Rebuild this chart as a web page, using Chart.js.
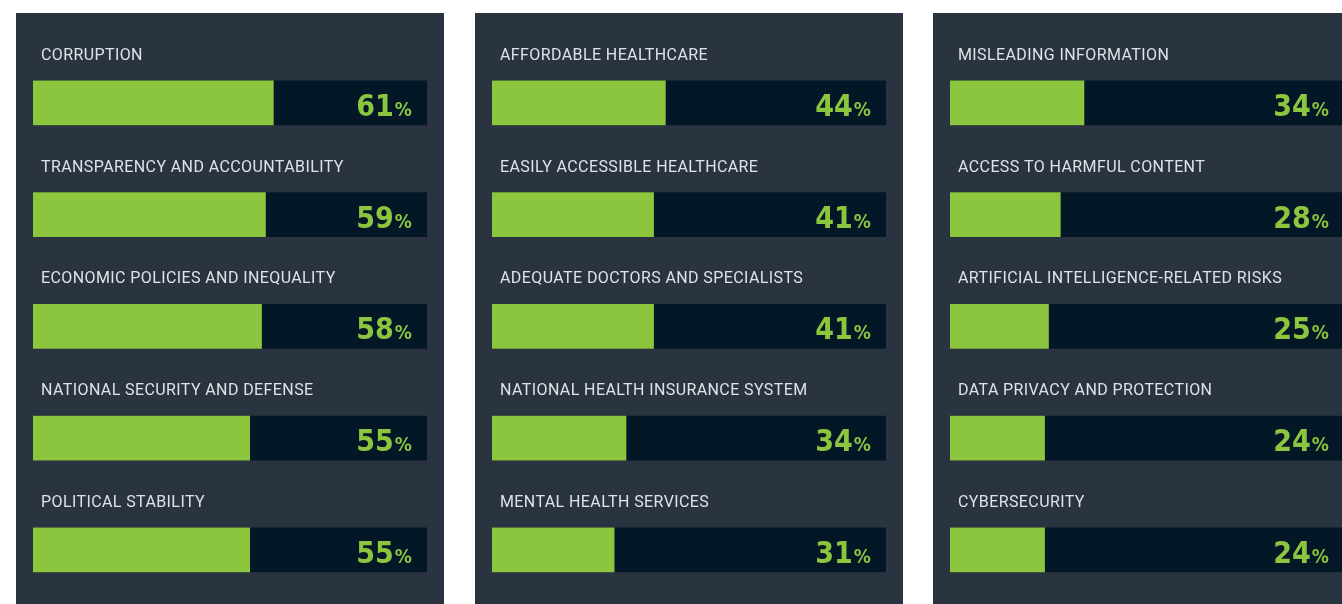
<!DOCTYPE html>
<html>
<head>
<meta charset="utf-8">
<script src="https://cdn.jsdelivr.net/npm/chart.js@4"></script>
<style>
    body { margin: 0; background: #ffffff; overflow: hidden; width: 1342px; height: 604px; position: relative; }
    canvas { position: absolute; top: 13px; }
</style>
</head>
<body>
<canvas id="panel1" width="428" height="620" style="left:16px"></canvas>
<canvas id="panel2" width="428" height="620" style="left:475px"></canvas>
<canvas id="panel3" width="428" height="620" style="left:933px"></canvas>
<script>
// Panel 1 - governance
const governanceLabels = ['CORRUPTION', 'TRANSPARENCY AND ACCOUNTABILITY', 'ECONOMIC POLICIES AND INEQUALITY', 'NATIONAL SECURITY AND DEFENSE', 'POLITICAL STABILITY'];
const governanceValues = [61, 59, 58, 55, 55];

// Panel 2 - healthcare
const healthLabels = ['AFFORDABLE HEALTHCARE', 'EASILY ACCESSIBLE HEALTHCARE', 'ADEQUATE DOCTORS AND SPECIALISTS', 'NATIONAL HEALTH INSURANCE SYSTEM', 'MENTAL HEALTH SERVICES'];
const healthValues = [44, 41, 41, 34, 31];

// Panel 3 - digital
const digitalLabels = ['MISLEADING INFORMATION', 'ACCESS TO HARMFUL CONTENT', 'ARTIFICIAL INTELLIGENCE-RELATED RISKS', 'DATA PRIVACY AND PROTECTION', 'CYBERSECURITY'];
const digitalValues = [34, 28, 25, 24, 24];

const scaleMax = 100;

const PANEL_BG = '#2a3441';
const TRACK = '#031727';
const GREEN = '#8cc63f';
const LABEL_COLOR = '#dfe3e7';
const VALUE_FONT = '"DejaVu Sans Condensed", "Liberation Sans Narrow", sans-serif';

// background, row labels and percentage text
const panelPlugin = {
    id: 'panelPlugin',
    beforeDraw(chart) {
        const ctx = chart.ctx;
        ctx.save();
        ctx.fillStyle = PANEL_BG;
        ctx.fillRect(0, 0, chart.width, chart.height);
        ctx.restore();
    },
    afterDatasetsDraw(chart) {
        const ctx = chart.ctx;
        const area = chart.chartArea;
        const yScale = chart.scales.y;
        const values = chart.data.datasets[0].data;
        ctx.save();
        chart.data.labels.forEach((label, i) => {
            const y = yScale.getPixelForValue(i);
            // label above the bar
            ctx.fillStyle = LABEL_COLOR;
            ctx.font = '16px Roboto, "Noto Sans", sans-serif';
            ctx.letterSpacing = '0.4px';
            ctx.textAlign = 'left';
            ctx.textBaseline = 'alphabetic';
            ctx.fillText(label, area.left + 8, y - 43);
            ctx.letterSpacing = '0px';

            // value text, right aligned in the track
            ctx.fillStyle = GREEN;
            ctx.font = 'bold 19px ' + VALUE_FONT;
            ctx.textAlign = 'right';
            const pctX = area.right - 15;
            ctx.fillText('%', pctX, y + 13);
            const pctW = ctx.measureText('%').width;
            ctx.font = 'bold 30px ' + VALUE_FONT;
            ctx.fillText(String(values[i]), pctX - pctW - 1, y + 13);
        });
        ctx.restore();
    }
};

function makePanel(id, labels, values) {
    return new Chart(document.getElementById(id), {
        type: 'bar',
        data: {
            labels: labels,
            datasets: [
                {
                    data: values,
                    backgroundColor: GREEN,
                    barThickness: 44,
                    grouped: false
                },
                {
                    data: labels.map(() => scaleMax),
                    backgroundColor: TRACK,
                    barThickness: 44,
                    grouped: false
                }
            ]
        },
        options: {
            indexAxis: 'y',
            responsive: false,
            animation: false,
            layout: {
                padding: { left: 17, right: 17, top: 34, bottom: 27.25 }
            },
            scales: {
                x: { min: 0, max: scaleMax, display: false },
                y: { display: false }
            },
            plugins: {
                legend: { display: false },
                tooltip: { enabled: false }
            }
        },
        plugins: [panelPlugin]
    });
}

makePanel('panel1', governanceLabels, governanceValues);
makePanel('panel2', healthLabels, healthValues);
makePanel('panel3', digitalLabels, digitalValues);
</script>
</body>
</html>
